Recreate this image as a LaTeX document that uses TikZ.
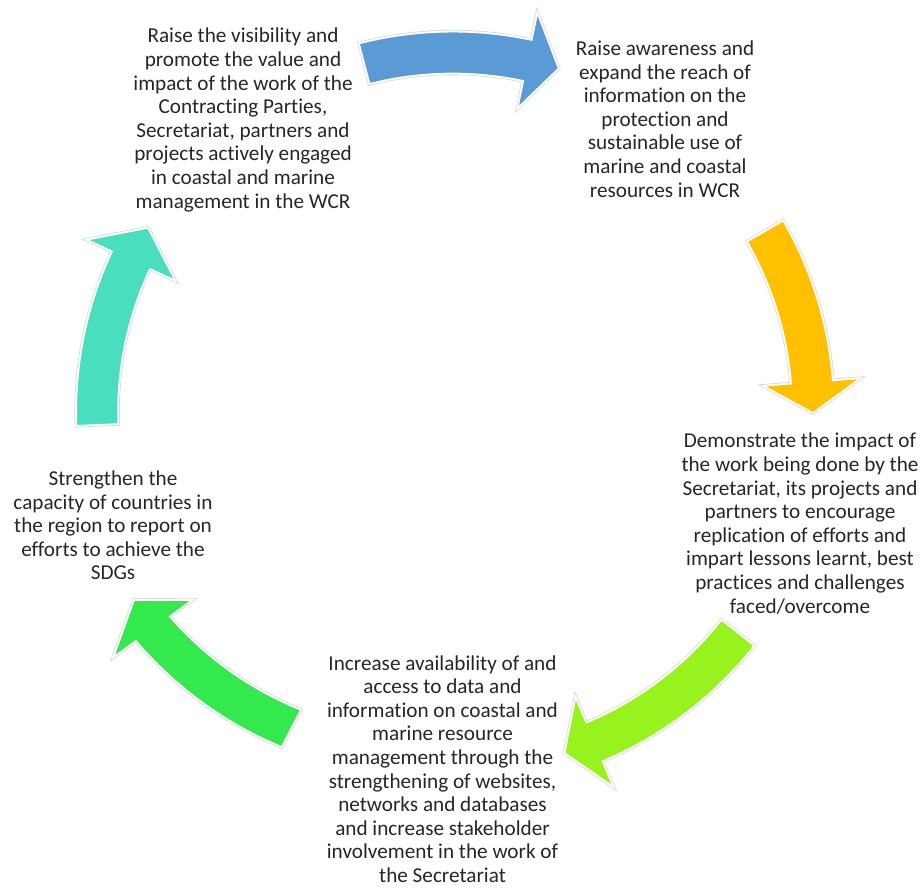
\documentclass[tikz,border=0pt]{standalone}
\usepackage{fontspec}
\setmainfont{Carlito}[Ligatures=NoCommon]
\definecolor{cblue}{RGB}{91,155,213}
\definecolor{cyellow}{RGB}{255,192,0}
\definecolor{clime}{RGB}{152,242,30}
\definecolor{cgreen}{RGB}{51,233,77}
\definecolor{cteal}{RGB}{72,222,190}
\definecolor{ctext}{RGB}{38,38,38}
% #1 colour, #2 tail angle, #3 head base angle, #4 tip angle, #5 radius at tail, #6 radius at head
\newcommand{\cyclearrow}[6]{%
  \path[fill=#1, draw=white, line width=1.8pt, line join=miter,
        preaction={draw=black!15, line width=3.4pt}]
    plot[domain=#2:#3, samples=40] (\x:{#5+(#6-#5)*(\x-(#2))/((#3)-(#2))+21})
    -- (#3:{#6+49}) -- (#4:{#6}) -- (#3:{#6-49})
    -- plot[domain=#3:#2, samples=40] (\x:{#5+(#6-#5)*(\x-(#2))/((#3)-(#2))-21})
    -- cycle;}
\begin{document}
\begin{tikzpicture}[x=1pt,y=1pt,
  goal/.style={align=center, inner sep=0pt, text=ctext,
    font=\fontsize{21.2}{23.6}\selectfont}]
\useasboundingbox (0,0) rectangle (922,-888);
\begin{scope}[shift={(455,-410)}]
  \cyclearrow{cblue}{104.7}{78.3}{73.1}{358}{357}
  \cyclearrow{cyellow}{30}{4.5}{-0.5}{358}{358}
  \cyclearrow{clime}{-38.2}{-67.2}{-72.3}{360}{360}
  \cyclearrow{cgreen}{-117.2}{-144.1}{-149.4}{358}{373}
  \cyclearrow{cteal}{182.4}{155.2}{149.3}{358}{357}
\end{scope}
\node[goal] (visibility) at (243,-120) {Raise the visibility and\\promote the value and\\impact of the work of the\\Contracting Parties,\\Secretariat, partners and\\projects actively engaged\\in coastal and marine\\management in the WCR};
\node[goal] (awareness) at (665,-119) {Raise awareness and\\expand the reach of\\information on the\\protection and\\sustainable use of\\marine and coastal\\resources in WCR};
\node[goal] (demonstrate) at (800,-523.5) {Demonstrate the impact of\\the work being done by the\\Secretariat, its projects and\\partners to encourage\\replication of efforts and\\impart lessons learnt, best\\practices and challenges\\faced/overcome};
\node[goal] (availability) at (442.5,-769) {Increase availability of and\\access to data and\\information on coastal and\\marine resource\\management through the\\strengthening of websites,\\networks and databases\\and increase stakeholder\\involvement in the work of\\the Secretariat};
\node[goal] (capacity) at (113,-525.5) {Strengthen the\\capacity of countries in\\the region to report on\\efforts to achieve the\\SDGs};
\end{tikzpicture}
\end{document}
